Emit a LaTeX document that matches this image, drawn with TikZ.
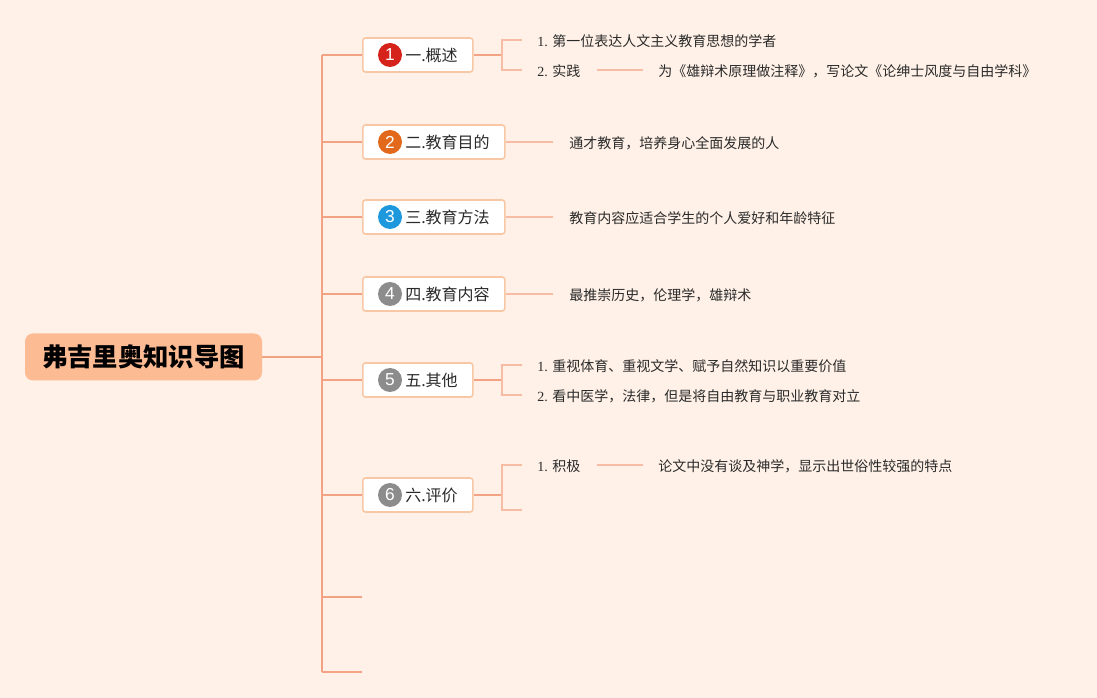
\documentclass[tikz,border=0pt]{standalone}
\usepackage{fontspec}
\setmainfont{Noto Sans CJK SC}
\newfontfamily\numfont{Liberation Serif}
\newfontfamily\digfont{Liberation Sans}
\definecolor{bgc}{HTML}{FFF1E7}
\definecolor{rootc}{HTML}{FDBB94}
\definecolor{trunkc}{HTML}{F3A383}
\definecolor{leafc}{HTML}{F7BDA4}
\definecolor{boxc}{HTML}{F8C8A6}
\definecolor{txt}{HTML}{2A2A2A}
\definecolor{cone}{HTML}{D5221A}
\definecolor{ctwo}{HTML}{E2691B}
\definecolor{cthree}{HTML}{1E98DC}
\definecolor{cgray}{HTML}{8C8C8C}
\begin{document}
\begin{tikzpicture}[x=0.75pt,y=-0.75pt,
  trunk/.style={draw=trunkc, line width=1.1pt},
  leafline/.style={draw=leafc, line width=0.9pt},
  rootbox/.style={fill=rootc, rounded corners=6pt, minimum width=237*0.75pt, minimum height=47*0.75pt, inner sep=0pt, font=\fontsize{19}{20}\selectfont\bfseries, text=black},
  lvbox/.style={draw=boxc, line width=1.2pt, fill=white, rounded corners=2pt, minimum height=34*0.75pt, anchor=west, inner sep=0pt},
  num/.style={circle, fill=#1, text=white, minimum size=24*0.75pt, inner sep=0pt, font=\digfont\fontsize{13}{13}\selectfont},
  lbl/.style={anchor=west, inner sep=0pt, font=\fontsize{12}{14}\selectfont, text=txt},
  leaf/.style={anchor=west, inner sep=0pt, font=\fontsize{10.5}{12}\selectfont, text=txt}]
\fill[bgc] (0,0) rectangle (1097,698);
\useasboundingbox (0,0) rectangle (1097,698);

% root
\node[rootbox] (root) at (143.5,357) {弗吉里奥知识导图};

% trunk coordinates
\coordinate (tr) at (322,357);
\coordinate (t1) at (322,55);
\coordinate (t2) at (322,142);
\coordinate (t3) at (322,217);
\coordinate (t4) at (322,294);
\coordinate (t5) at (322,380);
\coordinate (t6) at (322,495);
\coordinate (t7) at (322,597);
\coordinate (t8) at (322,672);
\coordinate (e7) at (362,597);
\coordinate (e8) at (362,672);

% level-1 boxes
\node[lvbox, minimum width=110*0.75pt] (b1) at (362,55) {};
\node[num=cone] (n1) at (390,55) {1};
\node[lbl] (l1) at (405,55) {一.概述};

\node[lvbox, minimum width=142*0.75pt] (b2) at (362,142) {};
\node[num=ctwo] (n2) at (390,142) {2};
\node[lbl] (l2) at (405,142) {二.教育目的};

\node[lvbox, minimum width=142*0.75pt] (b3) at (362,217) {};
\node[num=cthree] (n3) at (390,217) {3};
\node[lbl] (l3) at (405,217) {三.教育方法};

\node[lvbox, minimum width=142*0.75pt] (b4) at (362,294) {};
\node[num=cgray] (n4) at (390,294) {4};
\node[lbl] (l4) at (405,294) {四.教育内容};

\node[lvbox, minimum width=110*0.75pt] (b5) at (362,380) {};
\node[num=cgray] (n5) at (390,380) {5};
\node[lbl] (l5) at (405,380) {五.其他};

\node[lvbox, minimum width=110*0.75pt] (b6) at (362,495) {};
\node[num=cgray] (n6) at (390,495) {6};
\node[lbl] (l6) at (405,495) {六.评价};

% trunk
\draw[trunk] (t1) -- (t8);
\draw[trunk] (root.east) -- (tr);
\draw[trunk] (t1) -- (b1.west);
\draw[trunk] (t2) -- (b2.west);
\draw[trunk] (t3) -- (b3.west);
\draw[trunk] (t4) -- (b4.west);
\draw[trunk] (t5) -- (b5.west);
\draw[trunk] (t6) -- (b6.west);
\draw[trunk] (t7) -- (e7);
\draw[trunk] (t8) -- (e8);

% branch 1
\coordinate (j1) at (502,55);
\coordinate (s11) at (522,40);
\coordinate (s12) at (522,70);
\draw[trunk] (b1.east) -- (j1);
\draw[leafline] (s11) -| (j1) |- (s12);
\node[leaf] (a11) at (537,41) {{\numfont 1. }第一位表达人文主义教育思想的学者};
\node[leaf] (a12) at (537,71) {{\numfont 2. }实践};
\node[leaf] (a13) at (658,71) {为《雄辩术原理做注释》，写论文《论绅士风度与自由学科》};
\draw[leafline] ([xshift=12pt]a12.east |- s12) -- ([xshift=-11pt]a13.west |- s12);

% branch 2-4
\node[leaf] (a2) at (569,143) {通才教育，培养身心全面发展的人};
\draw[leafline] (b2.east) -- ([xshift=-12pt]a2.west |- b2.east);
\node[leaf] (a3) at (569,218) {教育内容应适合学生的个人爱好和年龄特征};
\draw[leafline] (b3.east) -- ([xshift=-12pt]a3.west |- b3.east);
\node[leaf] (a4) at (569,295) {最推崇历史，伦理学，雄辩术};
\draw[leafline] (b4.east) -- ([xshift=-12pt]a4.west |- b4.east);

% branch 5
\coordinate (j5) at (502,380);
\coordinate (s51) at (522,365);
\coordinate (s52) at (522,395);
\draw[trunk] (b5.east) -- (j5);
\draw[leafline] (s51) -| (j5) |- (s52);
\node[leaf] (a51) at (537,366) {{\numfont 1. }重视体育、重视文学、赋予自然知识以重要价值};
\node[leaf] (a52) at (537,396) {{\numfont 2. }看中医学，法律，但是将自由教育与职业教育对立};

% branch 6
\coordinate (j6) at (502,495);
\coordinate (s61) at (522,465);
\coordinate (s62) at (522,510);
\draw[trunk] (b6.east) -- (j6);
\draw[leafline] (s61) -| (j6) |- (s62);
\node[leaf] (a61) at (537,466) {{\numfont 1. }积极};
\node[leaf] (a62) at (658,466) {论文中没有谈及神学，显示出世俗性较强的特点};
\draw[leafline] ([xshift=12pt]a61.east |- s61) -- ([xshift=-11pt]a62.west |- s61);
\end{tikzpicture}
\end{document}
